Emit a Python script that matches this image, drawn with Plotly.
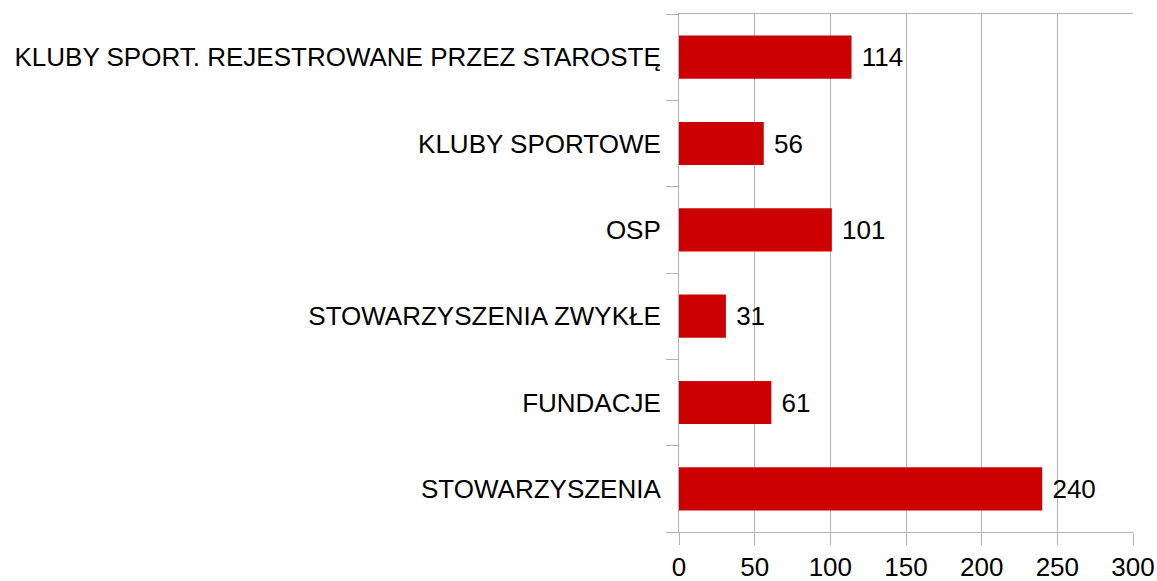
import plotly.graph_objects as go

categories = [
    "STOWARZYSZENIA",
    "FUNDACJE",
    "STOWARZYSZENIA ZWYKŁE",
    "OSP",
    "KLUBY SPORTOWE",
    "KLUBY SPORT. REJESTROWANE PRZEZ STAROSTĘ",
]
values = [240, 61, 31, 101, 56, 114]
x_ticks = [0, 50, 100, 150, 200, 250, 300]

FONT = "Liberation Sans, Arial, sans-serif"
FS = 26
GRID = "#b3b3b3"

fig = go.Figure(
    go.Bar(
        x=values,
        y=categories,
        orientation="h",
        marker=dict(color="#cc0000", line=dict(width=0)),
        width=0.5,
        texttemplate=" %{x}",
        textposition="outside",
        textfont=dict(family=FONT, size=FS, color="#000000"),
        cliponaxis=False,
        hoverinfo="skip",
    )
)

fig.update_layout(
    width=1157,
    height=581,
    margin=dict(l=679, r=24, t=14, b=49, autoexpand=False),
    paper_bgcolor="white",
    plot_bgcolor="white",
    showlegend=False,
    uniformtext=dict(minsize=FS, mode="show"),
    font=dict(family=FONT, size=FS, color="#000000"),
    xaxis=dict(
        range=[0, 300],
        tickvals=x_ticks,
        automargin=False,
        showgrid=True,
        gridcolor=GRID,
        gridwidth=1,
        showline=True,
        linecolor=GRID,
        linewidth=1,
        mirror=True,
        ticks="outside",
        ticklen=12,
        tickcolor=GRID,
        ticklabelstandoff=0,
        zeroline=False,
        tickfont=dict(family=FONT, size=FS, color="#000000"),
    ),
    yaxis=dict(
        categoryorder="array",
        categoryarray=categories,
        automargin=False,
        showgrid=False,
        showline=True,
        linecolor=GRID,
        linewidth=1,
        ticks="outside",
        tickson="boundaries",
        ticklen=12,
        tickcolor=GRID,
        ticklabelstandoff=12,
        tickfont=dict(family=FONT, size=FS, color="#000000"),
    ),
)

fig.write_html(
    "out.html",
    config={"displayModeBar": False},
    post_script="document.body.style.margin='0';document.body.style.overflow='hidden';",
)
